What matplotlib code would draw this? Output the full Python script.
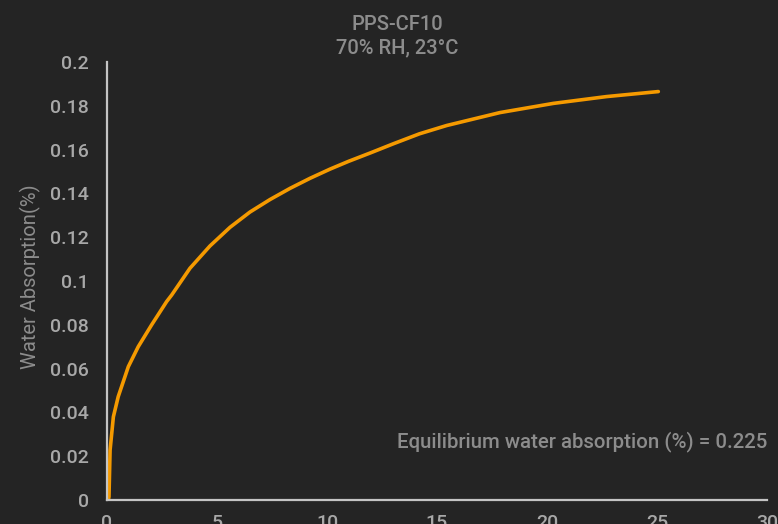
import numpy as np
import matplotlib.pyplot as plt

# valores
tiempo = [0.06, 0.09, 0.14, 0.29, 0.51, 0.97, 1.42, 2.03, 2.71, 2.94, 3.77, 4.68,
          5.59, 6.5, 7.41, 8.32, 9.23, 10.14, 10.97, 12.0, 13.0, 14.2, 15.44,
          17.86, 20.29, 22.7, 25.06]
absorcion = [0.0, 0.0015, 0.0228, 0.038, 0.0472, 0.0609, 0.070, 0.080, 0.0906,
             0.0936, 0.1058, 0.1160, 0.1245, 0.1315, 0.1372, 0.1423, 0.1469,
             0.1511, 0.1546, 0.1586, 0.1626, 0.1672, 0.1710, 0.1769, 0.1811,
             0.1842, 0.1865]
x_ticks = [0, 5, 10, 15, 20, 25, 30]
y_ticks = [0, 0.02, 0.04, 0.06, 0.08, 0.1, 0.12, 0.14, 0.16, 0.18, 0.2]
y_labels = ['0', '0.02', '0.04', '0.06', '0.08', '0.1', '0.12', '0.14', '0.16', '0.18', '0.2']

fondo = '#242424'
gris_texto = '#8c8c8c'
gris_ticks = '#a8a8a8'

plt.rcParams['font.family'] = ['Roboto', 'DejaVu Sans']

fig = plt.figure(figsize=(7.78, 5.24), dpi=100)
fig.patch.set_facecolor(fondo)
ax = fig.add_axes([107 / 778, 1 - 500 / 524, 660 / 778, 438 / 524])
ax.set_facecolor(fondo)

ax.plot(tiempo, absorcion, color='#f59a00', linewidth=2.6,
        solid_capstyle='round', solid_joinstyle='round')

ax.set_xlim(0, 30)
ax.set_ylim(0, 0.2)
ax.set_xticks(x_ticks)
ax.set_yticks(y_ticks)
ax.set_yticklabels(y_labels)
ax.tick_params(axis='both', length=0, labelsize=14, labelcolor=gris_ticks)
ax.tick_params(axis='y', pad=13)
ax.tick_params(axis='x', pad=10)
for lbl in ax.get_xticklabels() + ax.get_yticklabels():
    lbl.set_fontweight('medium')

for lado in ['top', 'right']:
    ax.spines[lado].set_visible(False)
for lado in ['left', 'bottom']:
    ax.spines[lado].set_color('#c4c4c4')
    ax.spines[lado].set_linewidth(1.6)

ax.set_ylabel('Water Absorption(%)', color=gris_texto, fontsize=14.5)
ax.yaxis.set_label_coords(-0.1, 0.51)

fig.text(397 / 778, 1 - 25 / 524, 'PPS-CF10', ha='center', va='center',
         color=gris_texto, fontsize=14.5, fontweight='medium')
fig.text(397 / 778, 1 - 48 / 524, '70% RH, 23°C', ha='center', va='center',
         color=gris_texto, fontsize=14.5, fontweight='medium')

ax.text(1.0, 1 - (442 - 62) / 438, 'Equilibrium water absorption (%) = 0.225',
        transform=ax.transAxes, ha='right', va='center', color=gris_texto,
        fontsize=14.7, fontweight='medium')

plt.savefig('out.png', dpi=100, facecolor=fondo)
